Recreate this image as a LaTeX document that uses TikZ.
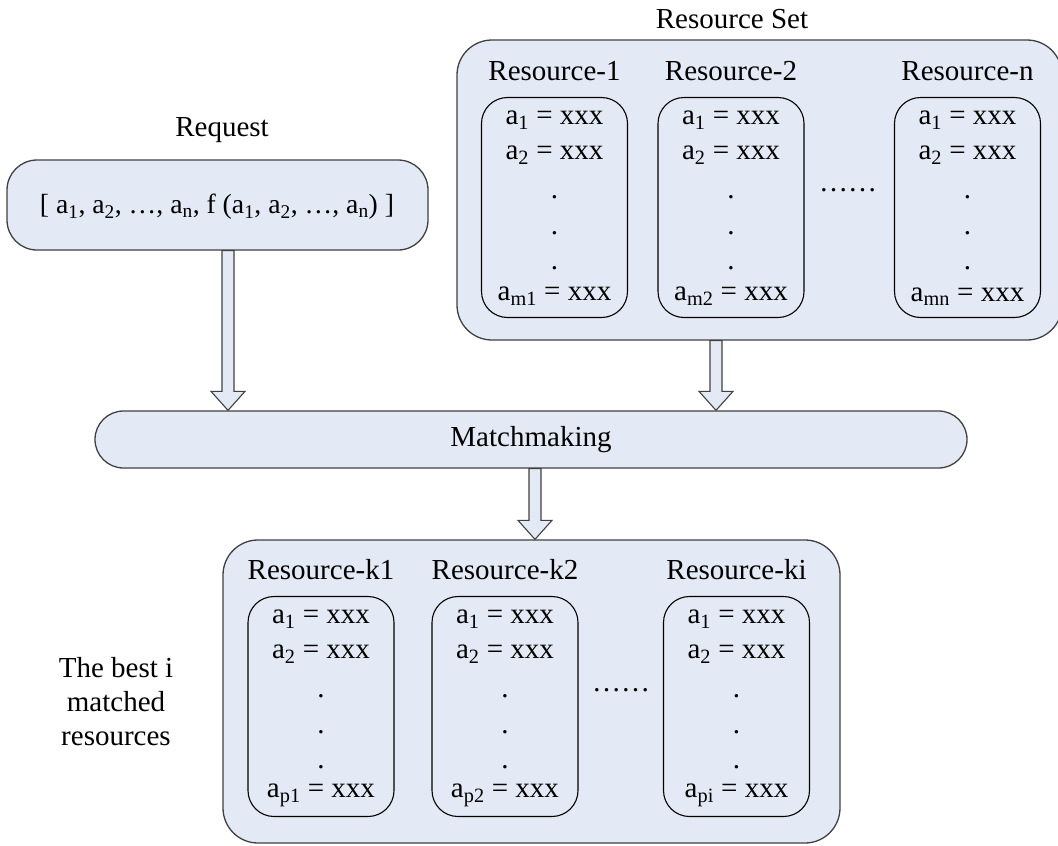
\documentclass[tikz,border=0pt]{standalone}
\usepackage{fontspec}
\setmainfont{Liberation Serif}
\usetikzlibrary{calc}

\definecolor{boxfill}{RGB}{228,234,245}
\definecolor{edgegray}{RGB}{64,64,64}

% subscript index for attribute names
\newcommand{\lowidx}[1]{\textsubscript{#1}}

\tikzset{
  txt/.style={font=\fontsize{29}{34}\selectfont, inner sep=0pt},
  groupbox/.style={draw=edgegray, line width=1.3pt, fill=boxfill,
                   rounded corners=35pt, inner sep=0pt},
  itembox/.style={draw=black, line width=1.1pt, rounded corners=26pt,
                  minimum width=146pt, minimum height=220pt, inner sep=0pt},
  fatarrow/.style={draw=edgegray, line width=1.1pt, fill=boxfill, line join=miter},
}

% one resource: title, rounded frame and its attribute list
\newcommand{\itemcolumn}[5]{%
  \node[itembox] (#1) at (#2,#3) {};
  \node[txt] (#1-title) at ($(#1)+(0,-136.5)$) {#4};
  \node[txt] (#1-r1) at ($(#1)+(0,-87)$) {a\lowidx{1} = xxx};
  \node[txt] (#1-r2) at ($(#1)+(0,-52)$) {a\lowidx{2} = xxx};
  \node[txt] (#1-d1) at ($(#1)+(0,-10)$) {.};
  \node[txt] (#1-d2) at ($(#1)+(0,25.5)$) {.};
  \node[txt] (#1-d3) at ($(#1)+(0,60.5)$) {.};
  \node[txt] (#1-rl) at ($(#1)+(0,89)$) {a\lowidx{#5} = xxx};
}

% hollow block arrow pointing down from #1 to #2
\newcommand{\blockarrowdown}[2]{%
  \draw[fatarrow] let \p1=(#1), \p2=(#2) in
    (\x1-6pt,\y1) -- (\x1-6pt,\y2+19pt) -- (\x1-17pt,\y2+19pt) -- (\x2,\y2)
    -- (\x1+17pt,\y2+19pt) -- (\x1+6pt,\y2+19pt) -- (\x1+6pt,\y1) -- cycle;
}

\begin{document}
\begin{tikzpicture}[x=1pt, y=-1pt]
  \useasboundingbox (0,0) rectangle (1058,846);
  \clip (0,0) rectangle (1058,846);

  % request
  \node[txt] (reqlabel) at (222,130) {Request};
  \node[groupbox, rounded corners=30pt, minimum width=421pt, minimum height=90pt]
    (req) at (217.5,205) {};
  \node[txt, font=\fontsize{27.7}{33}\selectfont] (reqtext) at (217,207)
    {[ a\lowidx{1}, a\lowidx{2}, …, a\lowidx{n}, f (a\lowidx{1}, a\lowidx{2}, …, a\lowidx{n}) ]};

  % resource set
  \node[txt] (rsetlabel) at (732,19) {Resource Set};
  \node[groupbox, minimum width=605pt, minimum height=300pt] (rset) at (759.5,190) {};
  \itemcolumn{r1}{554.5}{207.5}{Resource-1}{m1}
  \itemcolumn{r2}{731}{207.5}{Resource-2}{m2}
  \itemcolumn{rn}{967.5}{207.5}{Resource-n}{mn}
  \node[txt] (gapa) at (848,190) {……};

  % matchmaking
  \node[groupbox, txt, rounded corners=28.5pt, minimum width=872pt, minimum height=57pt]
    (match) at (531,439.5) {Matchmaking};

  % best matched resources
  \node[txt, align=center] (bestlabel) at (116,702) {The best i\\matched\\resources};
  \node[groupbox, minimum width=617pt, minimum height=303pt] (best) at (531.5,691.5) {};
  \itemcolumn{k1}{321}{706.5}{Resource-k1}{p1}
  \itemcolumn{k2}{505}{706.5}{Resource-k2}{p2}
  \itemcolumn{ki}{736.5}{706.5}{Resource-ki}{pi}
  \node[txt] (gapb) at (621,690) {……};

  % flow arrows
  \coordinate (axa) at (228,0);
  \coordinate (axb) at (716,0);
  \coordinate (axc) at (535,0);
  \blockarrowdown{axa |- req.south}{axa |- match.north}
  \blockarrowdown{axb |- rset.south}{axb |- match.north}
  \blockarrowdown{axc |- match.south}{axc |- best.north}
\end{tikzpicture}
\end{document}
